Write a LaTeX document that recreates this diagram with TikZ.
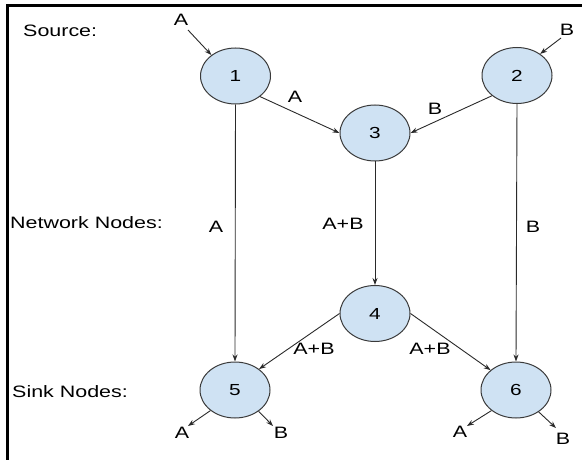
\documentclass[tikz,border=0pt]{standalone}
\usepackage{fontspec}
\setmainfont{Liberation Sans}
\newfontfamily\widefont[FakeStretch=1.3]{Liberation Sans}
\usetikzlibrary{shapes.geometric,arrows.meta}
\definecolor{nodefill}{HTML}{CFE2F3}
\definecolor{nodeline}{HTML}{3A3A3A}
\definecolor{edgecol}{HTML}{2A2A2A}
\begin{document}
\begin{tikzpicture}[x=1pt,y=-1pt,
  netnode/.style={ellipse,draw=nodeline,fill=nodefill,line width=1pt,
    minimum width=70pt,minimum height=56pt,inner sep=0pt,
    font=\widefont\fontsize{16}{19}\selectfont},
  lbl/.style={inner sep=0pt,font=\widefont\fontsize{16.5}{19}\selectfont},
  side/.style={inner sep=0pt,anchor=west,font=\widefont\fontsize{16.5}{19}\selectfont},
  flow/.style={draw=edgecol,line width=0.9pt,-{Stealth[length=7pt,width=5pt]}}]
\useasboundingbox (0,0) rectangle (582,460);
% frame
\draw[line width=3pt,line cap=rect] (582,5.5) -- (7.5,5.5) -- (7.5,462);
% side labels
\node[side] (src) at (23,31) {Source:};
\node[side] (net) at (10,223) {Network Nodes:};
\node[side] (snk) at (12,392) {Sink Nodes:};
% nodes
\node[netnode] (n1) at (235.5,76) {1};
\node[netnode] (n2) at (517,75.5) {2};
\node[netnode] (n3) at (375,133) {3};
\node[netnode] (n4) at (375,313.5) {4};
\node[netnode] (n5) at (235,390) {5};
\node[netnode] (n6) at (516,390) {6};
% free ends
\coordinate (inA) at (188,30);
\coordinate (inB) at (561,38);
\coordinate (o5A) at (188,426);
\coordinate (o5B) at (273,426);
\coordinate (o6A) at (467,426);
\coordinate (o6B) at (556,428);
% connectors
\draw[flow] (inA) -- (n1.139);
\draw[flow] (inB) -- (n2.43);
\draw[flow] (n1.-40) -- (n3.west);
\draw[flow] (n2.-141) -- (n3.east);
\draw[flow] (n1.south) -- (n5.north);
\draw[flow] (n3.south) -- (n4.north);
\draw[flow] (n2.south) -- (n6.north);
\draw[flow] (n4.west) -- (n5.41);
\draw[flow] (n4.east) -- (n6.142);
\draw[flow] (n5.-140) -- (o5A);
\draw[flow] (n5.-42) -- (o5B);
\draw[flow] (n6.-140) -- (o6A);
\draw[flow] (n6.-44) -- (o6B);
% connector labels
\node[lbl] (lA0) at (181,20) {A};
\node[lbl] (lB0) at (567,30) {B};
\node[lbl] (l13) at (295,97) {A};
\node[lbl] (l23) at (435,109) {B};
\node[lbl] (l15) at (216,227) {A};
\node[lbl] (l34) at (343,224) {A+B};
\node[lbl] (l26) at (533,227) {B};
\node[lbl] (l45) at (314,349) {A+B};
\node[lbl] (l46) at (430,349) {A+B};
\node[lbl] (l5A) at (182,433) {A};
\node[lbl] (l5B) at (281,433) {B};
\node[lbl] (l6A) at (460,432) {A};
\node[lbl] (l6B) at (563,439) {B};
\end{tikzpicture}
\end{document}
